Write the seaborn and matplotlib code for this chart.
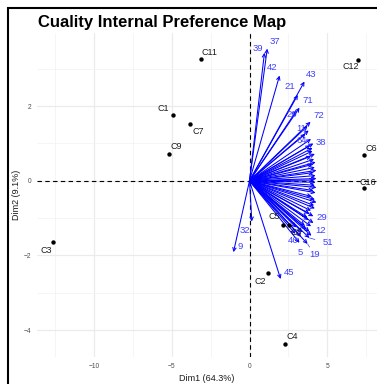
import matplotlib
matplotlib.use("Agg")
import matplotlib.pyplot as plt
from matplotlib.patches import Rectangle
from matplotlib.ticker import MultipleLocator
import seaborn as sns
import pandas as pd

# individuals (cultivars), PCA coordinates
ind_names = ["C1", "C2", "C3", "C4", "C5", "C6", "C7", "C8", "C9", "C11", "C12", "C16"]
ind_x = [-4.94, 1.22, -12.6, 2.29, 2.12, 7.37, -3.83, 2.56, -5.19, -3.10, 7.00, 7.33]
ind_y = [1.75, -2.47, -1.64, -4.36, -1.18, 0.69, 1.52, -1.18, 0.73, 3.26, 3.24, -0.20]

# consumer vectors (empty name = label hidden by overlap)
var_names = ["37", "39", "42", "43", "21", "71", "20", "72", "11", "64", "38",
             "29", "12", "51", "19", "5", "46", "45", "9", "32",
             "", "", "", "", "", "", "", "", "", "", "", "", "", "", "", "", "",
             "", "", "", "", "", "", "", "", "", "", "", "", "", "", "", "", "",
             "", "", "", ""]
var_x = [1.14, 0.96, 1.93, 3.53, 3.10, 3.21, 3.02, 3.92, 3.73, 3.60, 4.05,
         4.11, 3.98, 3.85, 3.73, 3.21, 2.95, 2.00, -1.03, 0.15,
         3.80, 3.95, 4.10, 3.90, 4.05, 4.20, 3.95, 4.15, 4.25, 4.05, 4.20, 4.30,
         4.10, 4.25, 4.30, 4.15, 4.25,
         4.20, 4.30, 4.10, 4.25, 4.00, 4.20, 4.30, 4.15, 4.20, 3.95, 3.85, 4.10,
         3.70, 3.80, 3.95, 3.55, 3.65,
         3.85, 3.40, 3.00, 3.30]
var_y = [3.54, 3.43, 2.82, 2.66, 2.30, 1.96, 1.88, 1.58, 1.47, 1.26, 0.88,
         -1.13, -1.47, -1.53, -1.69, -1.66, -1.42, -2.63, -1.91, -1.09,
         1.35, 1.12, 1.00, 0.95, 0.80, 0.72, 0.66, 0.58, 0.50, 0.44, 0.36, 0.28,
         0.22, 0.14, 0.06, 0.02, -0.04,
         -0.12, -0.18, -0.26, -0.32, -0.42, -0.50, -0.58, -0.66, -0.74, -0.80, -0.88, -0.95,
         -0.98, -1.05, -1.22, -1.20, -1.30,
         -1.36, -1.38, -1.25, -1.50]

xticks = [-10, -5, 0, 5]
yticks = [-4, -2, 0, 2]

# label nudges in pixels (ggrepel-like placement)
ind_nudge = {"C1": (-9, 7), "C2": (-8, -8), "C3": (-7, -8), "C4": (7, 7), "C5": (-8, 8),
             "C6": (7, 7), "C7": (8, -7), "C8": (7, -8), "C9": (8, 7), "C11": (8, 7),
             "C12": (-8, -7), "C16": (4, 6)}
var_nudge = {"37": (8, 7), "39": (-7, 4), "42": (-7, 8), "43": (7, 7), "21": (-8, 8),
             "71": (8, 7), "20": (-5, -4), "72": (8, 6), "11": (-6, -3), "64": (-4, -7),
             "38": (8, 5), "29": (8, 5), "12": (9, 5), "51": (18, -5), "19": (7, -11),
             "5": (1, -10), "46": (-2, -7), "45": (8, 6), "9": (7, 6), "32": (-7, -9)}
segment_labels = ["51", "19"]

sns.set_theme(style="whitegrid")
plt.rcParams["font.family"] = ["Liberation Sans", "DejaVu Sans"]

ind = pd.DataFrame({"name": ind_names, "Dim1": ind_x, "Dim2": ind_y})

fig = plt.figure(figsize=(3.77, 3.84), dpi=100)
ax = fig.add_axes([37 / 377, 27 / 384, 340 / 377, 324 / 384])
ax.set_facecolor("white")

ax.xaxis.set_major_locator(MultipleLocator(5))
ax.xaxis.set_minor_locator(MultipleLocator(2.5))
ax.yaxis.set_major_locator(MultipleLocator(2))
ax.yaxis.set_minor_locator(MultipleLocator(1))
ax.grid(which="major", color="#ebebeb", lw=0.9)
ax.grid(which="minor", color="#f2f2f2", lw=0.5)
ax.set_axisbelow(True)

ax.axhline(0, color="black", ls=(0, (4, 3)), lw=0.8, zorder=1)
ax.axvline(0, color="black", ls=(0, (4, 3)), lw=0.8, zorder=1)

# consumer arrows
for n, x, y in zip(var_names, var_x, var_y):
    ax.annotate("", xy=(x, y), xytext=(0, 0),
                arrowprops=dict(arrowstyle="->", color="#0000ff", lw=0.75,
                                shrinkA=0, shrinkB=0, mutation_scale=6), zorder=3)
for n, x, y in zip(var_names, var_x, var_y):
    if n == "":
        continue
    dx, dy = var_nudge[n]
    props = None
    if n in segment_labels:
        props = dict(arrowstyle="-", color="#3a3aff", lw=0.5, shrinkA=3, shrinkB=0)
    ax.annotate(n, xy=(x, y), xytext=(dx, dy), textcoords="offset pixels",
                ha="center", va="center", fontsize=6.8, color="#4040ff",
                arrowprops=props, zorder=4)

# individuals
sns.scatterplot(data=ind, x="Dim1", y="Dim2", color="black", s=10,
                edgecolor=None, linewidth=0, ax=ax, zorder=5)
for n, x, y in zip(ind_names, ind_x, ind_y):
    dx, dy = ind_nudge[n]
    ax.annotate(n, xy=(x, y), xytext=(dx, dy), textcoords="offset pixels",
                ha="center", va="center", fontsize=6.5, color="#1a1a1a", zorder=5)

ax.set_xlim(-13.65, 8.19)
ax.set_ylim(-4.72, 3.96)
ax.set_xticks(xticks)
ax.set_yticks(yticks)
ax.set_xticklabels([str(t).replace("-", "\u2212") for t in xticks])
ax.set_yticklabels([str(t).replace("-", "\u2212") for t in yticks])
ax.tick_params(which="major", length=2, width=0.5, color="#4d4d4d",
               labelsize=4.8, labelcolor="#4d4d4d", pad=2)
ax.tick_params(which="minor", length=0)
for s in ax.spines.values():
    s.set_visible(False)

ax.set_xlabel("Dim1 (64.3%)", fontsize=6.5, color="#1a1a1a", labelpad=3)
ax.set_ylabel("Dim2 (9.1%)", fontsize=6.5, color="#1a1a1a", labelpad=2)

fig.text(37.5 / 377, 1 - 26.7 / 384, "Cuality Internal Preference Map",
         fontsize=12, fontweight="bold", color="black", va="baseline", ha="left")

fig.patches.append(Rectangle((8 / 377, -0.1), 1.2, 1.1 - 8 / 384, transform=fig.transFigure,
                             fill=False, edgecolor="black", lw=1.5, clip_on=False))

fig.savefig("out.png", dpi=100)
